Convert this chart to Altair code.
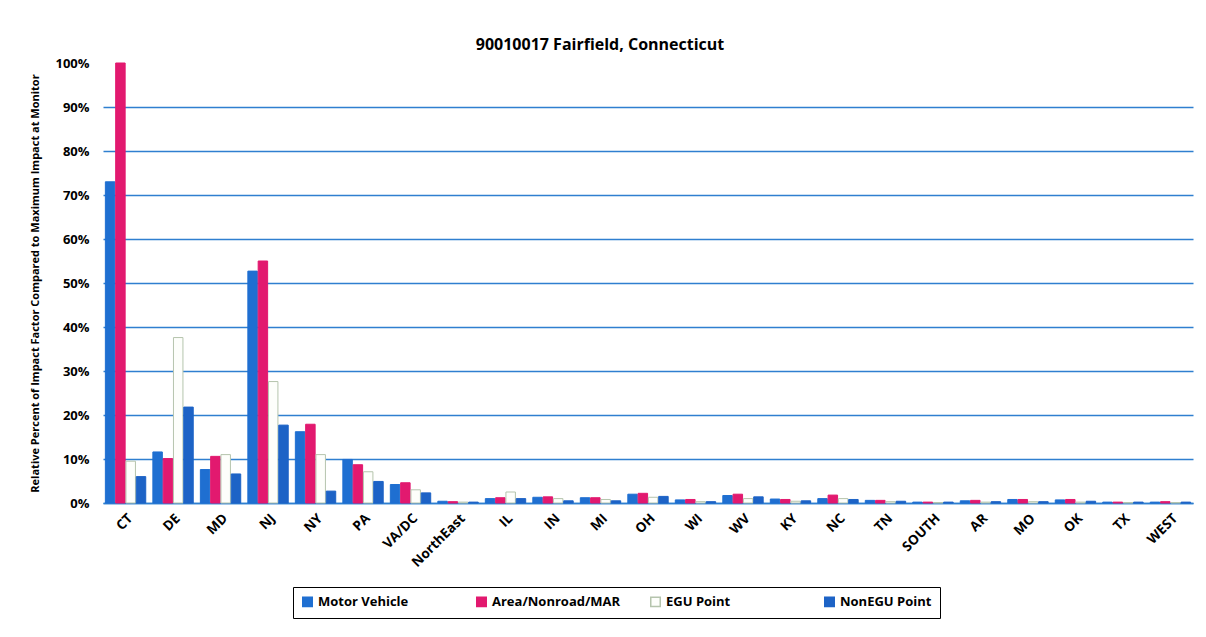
import altair as alt
import pandas as pd

cats = ["CT", "DE", "MD", "NJ", "NY", "PA", "VA/DC", "NorthEast", "IL", "IN", "MI", "OH",
        "WI", "WV", "KY", "NC", "TN", "SOUTH", "AR", "MO", "OK", "TX", "WEST"]
series = ["Motor Vehicle", "Area/Nonroad/MAR", "EGU Point", "NonEGU Point"]
motor = [73, 11.6, 7.6, 52.7, 16.2, 9.9, 4.2, 0.4, 1.0, 1.3, 1.2, 2.0, 0.7, 1.7, 0.9, 1.0, 0.6, 0.2, 0.5, 0.8, 0.7, 0.2, 0.2]
area = [100, 10.1, 10.6, 55.0, 17.9, 8.7, 4.6, 0.3, 1.2, 1.4, 1.2, 2.2, 0.8, 2.0, 0.8, 1.8, 0.6, 0.2, 0.6, 0.8, 0.8, 0.2, 0.3]
egu = [9.5, 37.6, 11.0, 27.6, 11.0, 7.1, 3.0, 0.2, 2.5, 1.0, 0.8, 1.3, 0.3, 1.0, 0.4, 1.0, 0.3, 0.1, 0.2, 0.3, 0.2, 0.1, 0.1]
nonegu = [6.0, 21.8, 6.6, 17.7, 2.7, 4.9, 2.3, 0.2, 1.0, 0.5, 0.5, 1.5, 0.3, 1.4, 0.5, 0.8, 0.4, 0.2, 0.3, 0.3, 0.4, 0.2, 0.2]
y_ticks = [0, 10, 20, 30, 40, 50, 60, 70, 80, 90, 100]

fills = ["#1f6fd1", "#e2196f", "#fdfefb", "#1d63c6"]
strokes = ["#1f6fd1", "#e2196f", "#b5c4ad", "#1d63c6"]

rows = []
for vals, s in zip([motor, area, egu, nonegu], series):
    for c, v in zip(cats, vals):
        rows.append({"region": c, "series": s, "value": v})
df = pd.DataFrame(rows)

FONT = "Open Sans"
GRID = "#2f7fd0"


def make_legend():
    return alt.Legend(title=None, orient="none", direction="horizontal",
                      legendX=190, legendY=524, symbolType="square",
                      symbolSize=90, labelFont=FONT, labelFontWeight="bold",
                      labelFontSize=13, labelColor="black",
                      columnPadding=26, gridAlign="all",
                      strokeColor="black", padding=8, fillColor="white")


chart = alt.Chart(df).mark_bar(strokeWidth=1).encode(
    x=alt.X("region:N", sort=cats, title=None,
            scale=alt.Scale(paddingInner=0.15, paddingOuter=0.05),
            axis=alt.Axis(labelAngle=-45, labelFont=FONT, labelFontWeight="bold",
                          labelFontSize=13.5, labelColor="black", ticks=False,
                          domainColor=GRID, domainWidth=1.5, labelPadding=8)),
    xOffset=alt.XOffset("series:N", sort=series, scale=alt.Scale(paddingInner=0.08)),
    y=alt.Y("value:Q", title="Relative Percent of Impact Factor Compared to Maximum Impact at Monitor",
            scale=alt.Scale(domain=[0, 100], nice=False),
            axis=alt.Axis(values=y_ticks, labelExpr="datum.value + '%'", labelFont=FONT,
                          labelFontWeight="bold", labelFontSize=13, labelColor="black",
                          labelPadding=14, ticks=False, domain=False,
                          gridColor=GRID, gridWidth=1.5,
                          gridOpacity={"condition": {"test": "datum.value >= 100", "value": 0}, "value": 1},
                          titleFont=FONT, titleFontSize=11, titleFontWeight="bold",
                          titleColor="black", titlePadding=14)),
    fill=alt.Fill("series:N", sort=series, scale=alt.Scale(domain=series, range=fills),
                  legend=make_legend()),
    stroke=alt.Stroke("series:N", sort=series, scale=alt.Scale(domain=series, range=strokes),
                      legend=make_legend()),
).properties(
    width=1090, height=440,
    background="white",
    title=alt.TitleParams("90010017 Fairfield, Connecticut", font=FONT, fontSize=16,
                          fontWeight="bold", color="black", anchor="middle", offset=4, dx=-48),
    autosize=alt.AutoSizeParams(type="none"),
    padding={"left": 95, "top": 55, "right": 5, "bottom": 125},
).configure_view(strokeWidth=0, strokeOpacity=0)

chart.save("out.html", embed_options={"renderer": "svg", "actions": False})
